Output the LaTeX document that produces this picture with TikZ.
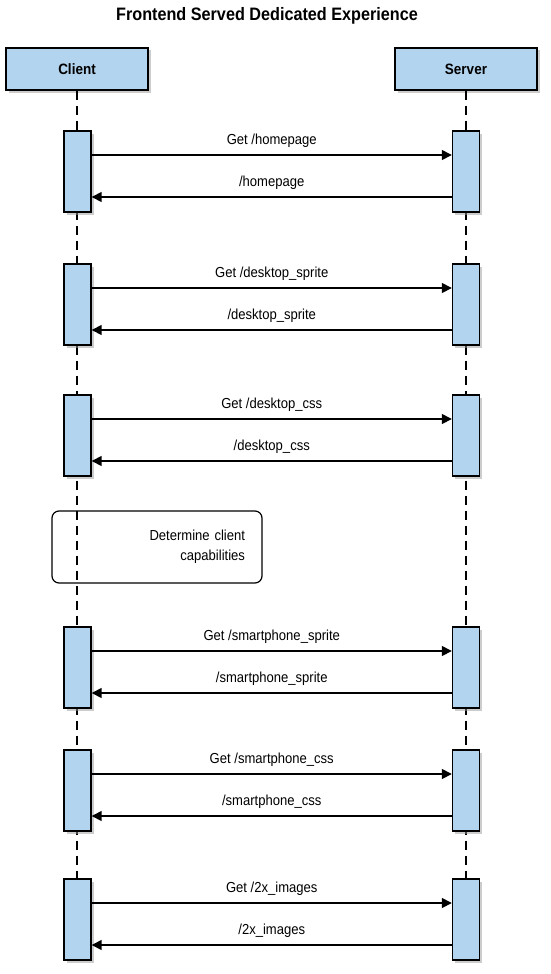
\documentclass[tikz,border=0pt]{standalone}
\usepackage{fontspec}
\setmainfont{Liberation Sans}[FakeStretch=0.9]
\usepackage{xcolor}
\usepackage{tikz}
\usetikzlibrary{arrows.meta,shadows}
\definecolor{actblue}{HTML}{B3D4EE}
\tikzset{
  BaseNode/.style = {align=center, inner sep=0pt, text centered, font=\fontsize{14.5}{20}\selectfont},
  ActorNode/.style = {BaseNode, rectangle, draw=black, fill=actblue, line width=1.4pt, minimum width=142pt, minimum height=42pt, font=\fontsize{15}{18}\selectfont\bfseries, drop shadow={shadow xshift=2.5pt, shadow yshift=-2.5pt, fill=black!40}},
  ActBox/.style = {BaseNode, rectangle, draw=black, fill=actblue, line width=1.4pt, minimum width=27pt, minimum height=81pt, drop shadow={shadow xshift=2.5pt, shadow yshift=-2.5pt, fill=black!40}},
  NoteNode/.style = {BaseNode, rectangle, rounded corners=7pt, draw=black, line width=1.2pt, minimum width=210pt, minimum height=72pt, text width=176pt, align=right, inner xsep=17pt},
  LifeLine/.style = {line width=1.3pt, dash pattern=on 9pt off 6pt},
  Msg/.style = {line width=1.5pt, -{Triangle[length=10pt, width=10pt]}},
  MsgLabel/.style = {BaseNode, above=7pt, midway},
}

\begin{document}
\begin{tikzpicture}[x=1pt, y=-1pt]
    \useasboundingbox (0,0) rectangle (550,974);
    \node [BaseNode, font=\fontsize{18}{21}\selectfont\bfseries] (title) at (267,16) {Frontend Served Dedicated Experience};
    \node [ActorNode] (client) at (77,69) {Client};
    \node [ActorNode] (server) at (466,69) {Server};
    % lifelines
    \coordinate (clientend) at (77,879);
    \coordinate (serverend) at (466,879);
    \draw [LifeLine] (client.south) -- (clientend);
    \draw [LifeLine] (server.south) -- (serverend);
    % activation boxes
    \node [ActBox] (c1) at (77.5,171.5) {};
    \node [ActBox] (s1) at (466,171.5) {};
    \node [ActBox] (c2) at (77.5,304.5) {};
    \node [ActBox] (s2) at (466,304.5) {};
    \node [ActBox] (c3) at (77.5,435.5) {};
    \node [ActBox] (s3) at (466,435.5) {};
    \node [ActBox] (c4) at (77.5,667.5) {};
    \node [ActBox] (s4) at (466,667.5) {};
    \node [ActBox] (c5) at (77.5,790.5) {};
    \node [ActBox] (s5) at (466,790.5) {};
    \node [ActBox] (c6) at (77.5,919.5) {};
    \node [ActBox] (s6) at (466,919.5) {};
    % note
    \node [NoteNode] (note) at (157,547) {Determine client\\capabilities};
    % messages
    \draw [Msg] ([yshift=16.5pt]c1.east) -- ([yshift=16.5pt]s1.west) node [MsgLabel] {Get /homepage};
    \draw [Msg] ([yshift=-25.5pt]s1.west) -- ([yshift=-25.5pt]c1.east) node [MsgLabel] {/homepage};
    \draw [Msg] ([yshift=16.5pt]c2.east) -- ([yshift=16.5pt]s2.west) node [MsgLabel] {Get /desktop\_sprite};
    \draw [Msg] ([yshift=-25.5pt]s2.west) -- ([yshift=-25.5pt]c2.east) node [MsgLabel] {/desktop\_sprite};
    \draw [Msg] ([yshift=16.5pt]c3.east) -- ([yshift=16.5pt]s3.west) node [MsgLabel] {Get /desktop\_css};
    \draw [Msg] ([yshift=-25.5pt]s3.west) -- ([yshift=-25.5pt]c3.east) node [MsgLabel] {/desktop\_css};
    \draw [Msg] ([yshift=16.5pt]c4.east) -- ([yshift=16.5pt]s4.west) node [MsgLabel] {Get /smartphone\_sprite};
    \draw [Msg] ([yshift=-25.5pt]s4.west) -- ([yshift=-25.5pt]c4.east) node [MsgLabel] {/smartphone\_sprite};
    \draw [Msg] ([yshift=16.5pt]c5.east) -- ([yshift=16.5pt]s5.west) node [MsgLabel] {Get /smartphone\_css};
    \draw [Msg] ([yshift=-25.5pt]s5.west) -- ([yshift=-25.5pt]c5.east) node [MsgLabel] {/smartphone\_css};
    \draw [Msg] ([yshift=16.5pt]c6.east) -- ([yshift=16.5pt]s6.west) node [MsgLabel] {Get /2x\_images};
    \draw [Msg] ([yshift=-25.5pt]s6.west) -- ([yshift=-25.5pt]c6.east) node [MsgLabel] {/2x\_images};
\end{tikzpicture}
\end{document}
